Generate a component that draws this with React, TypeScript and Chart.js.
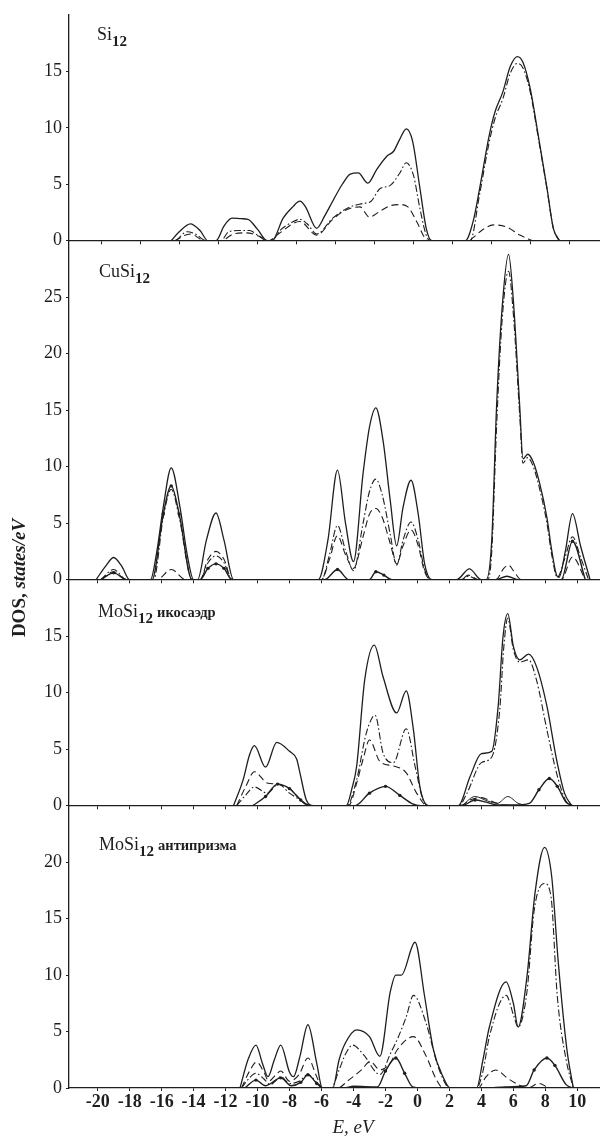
import React, { useEffect, useRef } from 'react';
import { Chart, registerables } from 'chart.js';

Chart.register(...registerables);

const FONT = "'Liberation Serif', 'Times New Roman', serif";
const INK = '#1e1e1e';

// ---- axis ticks ----
const energyTicks = [-20, -18, -16, -14, -12, -10, -8, -6, -4, -2, 0, 2, 4, 6, 8, 10];
const si12TickMarks = [-20, -17.5, -15, -12.5, -10, -7.5, -5, -2.5, 0, 2.5, 5, 7.5, 10];
const yTicks1 = [0, 5, 10, 15];
const yTicks2 = [0, 5, 10, 15, 20, 25];
const yTicks3 = [0, 5, 10, 15];
const yTicks4 = [0, 5, 10, 15, 20];
const panelMax = [20, 30, 20, 25];

// ---- panel labels ----
const panelNames = ['Si', 'CuSi', 'MoSi', 'MoSi'];
const panelSubs = ['12', '12', '12', '12'];
const panelNotes = ['', '', 'икосаэдр', 'антипризма'];

// ---- Si12 ----
const si12Total = [
  [-15.4, 0], [-14.9, 0.8], [-14.2, 1.5], [-13.6, 0.9], [-13.1, 0],
  [-12.6, 0], [-12.1, 1.3], [-11.6, 2.0], [-11.0, 1.95], [-10.6, 1.9], [-10.0, 1.0], [-9.4, 0], [-9.1, 0],
  [-8.4, 2.0], [-7.8, 3.0], [-7.35, 3.5], [-7.0, 3.0], [-6.3, 1.1], [-5.8, 2.2], [-5.3, 3.5], [-4.7, 5.0],
  [-4.2, 5.9], [-3.7, 6.0], [-3.1, 5.1], [-2.55, 6.3], [-1.9, 7.5], [-1.5, 7.9], [-1.1, 9.0], [-0.7, 9.9],
  [-0.3, 8.8], [0.15, 4.7], [0.55, 1.1], [0.9, 0],
  [3.0, 0], [3.5, 1.8], [3.9, 4.7], [4.5, 9.4], [4.85, 11.4], [5.35, 13.2], [5.8, 15.4], [6.25, 16.3],
  [6.6, 15.8], [7.05, 13.5], [7.55, 9.4], [8.1, 4.7], [8.5, 1.1], [8.9, 0],
];
const si12P = [
  [-15.1, 0], [-14.4, 0.8], [-13.9, 0.6], [-13.2, 0],
  [-12.3, 0], [-11.8, 0.8], [-11.2, 0.9], [-10.5, 0.9], [-10.0, 0.5], [-9.4, 0], [-9.1, 0],
  [-8.6, 0.9], [-7.9, 1.6], [-7.35, 1.9], [-6.9, 1.5], [-6.3, 0.6], [-5.3, 2.0], [-4.5, 2.8], [-4.0, 3.1],
  [-3.4, 3.3], [-2.9, 3.5], [-2.35, 4.6], [-1.7, 4.9], [-1.1, 6.0], [-0.7, 6.9], [-0.25, 5.8], [0.15, 2.9],
  [0.55, 0.5], [0.85, 0],
  [3.3, 0], [3.9, 4.2], [4.5, 8.8], [4.85, 10.8], [5.35, 12.6], [5.8, 14.8], [6.25, 15.7], [6.6, 15.3],
  [7.05, 13.2], [7.55, 9.2], [8.1, 4.6], [8.5, 1.1], [8.85, 0],
];
const si12S = [
  [-15.2, 0], [-14.2, 0.6], [-13.3, 0],
  [-12.3, 0], [-11.5, 0.6], [-10.7, 0.7], [-9.9, 0.4], [-9.3, 0],
  [-8.7, 0.6], [-7.35, 1.7], [-6.3, 0.5], [-5.3, 1.9], [-4.5, 2.7], [-3.6, 3.0], [-3.0, 2.1], [-2.35, 2.6],
  [-1.7, 3.1], [-1.1, 3.2], [-0.6, 3.0], [-0.05, 1.7], [0.55, 0.1], [0.8, 0],
  [3.2, 0], [3.5, 0.3], [4.1, 1.0], [4.75, 1.4], [5.6, 1.2], [6.4, 0.5], [7.2, 0],
];

// ---- CuSi12 ----
const cuTotal = [
  [-20.1, 0], [-19.5, 1.2], [-19.0, 1.96], [-18.5, 1.2], [-18.0, 0],
  [-16.7, 0], [-16.3, 2.5], [-15.9, 6.4], [-15.4, 9.9], [-14.85, 6.4], [-14.4, 2.2], [-14.0, 0],
  [-13.75, 0], [-13.2, 3.5], [-12.6, 5.9], [-12.1, 3.5], [-11.5, 0],
  [-6.2, 0], [-5.6, 3.5], [-5.0, 9.7], [-4.5, 5.0], [-4.0, 1.6], [-3.4, 9.4], [-3.0, 13.5], [-2.6, 15.2],
  [-2.15, 12.3], [-1.7, 7.0], [-1.3, 3.0], [-0.9, 6.4], [-0.4, 8.8], [0.05, 5.8], [0.45, 1.4], [0.9, 0],
  [2.45, 0], [3.25, 0.95], [4.0, 0],
  [4.3, 0], [4.65, 3.5], [4.95, 15.3], [5.3, 24.1], [5.7, 28.8], [6.0, 24.7], [6.4, 15.3], [6.6, 10.7],
  [6.9, 11.1], [7.25, 10.4], [7.65, 8.5], [8.1, 5.5], [8.4, 2.6], [8.7, 0.4], [8.85, 0.2], [9.25, 2.5],
  [9.7, 5.85], [10.2, 3.0], [10.8, 0],
];
const cuP = [
  [-19.8, 0], [-19.0, 0.9], [-18.2, 0],
  [-16.5, 0], [-15.9, 5.5], [-15.4, 8.0], [-14.9, 5.5], [-14.1, 0],
  [-13.6, 0], [-13.1, 1.5], [-12.6, 2.1], [-12.1, 1.5], [-11.6, 0],
  [-6.0, 0], [-5.5, 2.2], [-5.0, 4.8], [-4.5, 2.6], [-4.0, 0.8], [-3.4, 5.0], [-3.0, 7.8], [-2.6, 8.9],
  [-2.2, 7.5], [-1.7, 4.0], [-1.3, 1.3], [-0.9, 3.5], [-0.4, 5.1], [0.05, 3.5], [0.45, 0.9], [0.85, 0],
  [2.7, 0], [3.2, 0.3], [3.8, 0],
  [4.4, 0], [4.65, 2.5], [4.95, 13.5], [5.3, 23.0], [5.7, 27.3], [6.0, 23.5], [6.4, 14.5], [6.6, 10.3],
  [6.9, 10.8], [7.25, 10.0], [7.65, 8.0], [8.1, 5.0], [8.4, 2.2], [8.75, 0.2], [9.2, 1.8], [9.7, 3.8],
  [10.2, 2.0], [10.7, 0],
];
const cuS = [
  [-19.8, 0], [-19.0, 0.7], [-18.2, 0],
  [-16.3, 0], [-15.4, 0.9], [-14.5, 0],
  [-13.6, 0], [-13.1, 1.8], [-12.6, 2.5], [-12.1, 1.8], [-11.6, 0],
  [-6.0, 0], [-5.5, 1.8], [-5.0, 3.9], [-4.5, 2.2], [-4.0, 1.0], [-3.4, 3.8], [-3.0, 5.8], [-2.6, 6.3],
  [-2.2, 5.5], [-1.7, 3.2], [-1.3, 1.4], [-0.9, 3.0], [-0.4, 4.4], [0.05, 3.0], [0.45, 0.7], [0.85, 0],
  [2.7, 0], [3.2, 0.4], [3.8, 0],
  [4.9, 0], [5.4, 1.0], [5.7, 1.3], [6.0, 0.8], [6.5, 0],
  [9.0, 0], [9.7, 2.0], [10.5, 0],
];
const cuD = [
  [-19.8, 0], [-19.0, 0.6], [-18.2, 0],
  [-16.6, 0], [-15.9, 5.8], [-15.4, 8.3], [-14.9, 5.8], [-14.1, 0],
  [-13.6, 0], [-13.1, 1.0], [-12.6, 1.4], [-12.1, 1.0], [-11.6, 0],
  [-5.8, 0], [-5.0, 0.9], [-4.3, 0],
  [-3.0, 0], [-2.6, 0.7], [-2.1, 0.4], [-1.6, 0],
  [4.9, 0], [5.6, 0.3], [6.3, 0],
  [9.0, 0], [9.7, 3.4], [10.5, 0],
];

// ---- MoSi12 icosahedron ----
const icoTotal = [
  [-11.5, 0], [-10.9, 2.3], [-10.5, 4.5], [-10.2, 5.3], [-9.5, 3.4], [-8.8, 5.6], [-8.0, 4.8], [-7.55, 4.1],
  [-7.35, 2.9], [-6.95, 0.5], [-6.5, 0],
  [-4.45, 0], [-4.1, 1.5], [-3.8, 3.5], [-3.3, 11.1], [-2.7, 14.2], [-2.15, 11.4], [-1.3, 8.2], [-0.7, 10.15],
  [-0.25, 6.7], [0.15, 1.7], [0.7, 0],
  [2.55, 0], [3.3, 2.6], [4.0, 4.6], [4.65, 4.8], [5.05, 8.8], [5.35, 14.9], [5.65, 17.0], [6.0, 14.1],
  [6.4, 12.9], [6.95, 13.4], [7.45, 12.3], [8.1, 8.8], [8.7, 4.1], [9.2, 1.1], [9.65, 0],
];
const icoP = [
  [-11.3, 0], [-10.7, 1.0], [-10.2, 1.65], [-9.4, 1.1], [-8.7, 1.9], [-8.0, 1.1], [-7.35, 0.5], [-6.8, 0],
  [-4.4, 0], [-3.8, 2.3], [-3.2, 6.4], [-2.65, 8.0], [-2.15, 4.65], [-1.5, 3.8], [-0.7, 6.8], [-0.15, 3.5],
  [0.35, 0.5], [0.7, 0],
  [2.6, 0], [3.1, 1.1], [4.0, 3.8], [4.65, 4.3], [5.15, 8.5], [5.4, 14.0], [5.65, 16.6], [6.0, 13.8],
  [6.4, 12.7], [6.95, 12.9], [7.45, 11.1], [8.1, 6.7], [8.7, 2.9], [9.25, 0.5], [9.6, 0],
];
const icoS = [
  [-11.3, 0], [-10.7, 1.8], [-10.2, 3.0], [-9.4, 2.0], [-8.8, 1.9], [-8.0, 1.5], [-7.3, 0.5], [-6.8, 0],
  [-4.3, 0], [-3.8, 2.0], [-3.4, 4.1], [-3.0, 5.8], [-2.35, 3.9], [-1.5, 3.5], [-0.7, 2.9], [-0.05, 1.1], [0.6, 0],
  [2.7, 0], [3.3, 0.5], [4.0, 0.7], [4.6, 0.4], [5.2, 0.1], [5.8, 0],
];
const icoD = [
  [-10.3, 0], [-9.5, 0.8], [-8.75, 1.9], [-8.0, 1.5], [-7.3, 0.5], [-6.7, 0],
  [-3.9, 0], [-3.0, 1.1], [-2.0, 1.7], [-1.1, 0.9], [-0.3, 0.15], [0.2, 0],
  [2.8, 0], [3.6, 0.5], [4.3, 0.3], [5.0, 0.05], [6.0, 0.05], [7.0, 0.2], [7.6, 1.4], [8.25, 2.4],
  [8.75, 1.7], [9.3, 0.3], [9.7, 0],
];
const icoMinor = [
  [2.8, 0], [3.6, 0.8], [4.4, 0.4], [5.0, 0.2], [5.65, 0.8], [6.3, 0.2], [6.8, 0],
];

// ---- MoSi12 antiprism ----
const antTotal = [
  [-11.1, 0], [-10.6, 2.5], [-10.1, 3.8], [-9.7, 2.2], [-9.35, 1.0], [-8.95, 2.5], [-8.55, 3.8], [-8.0, 1.4],
  [-7.75, 1.0], [-7.35, 2.8], [-6.85, 5.6], [-6.3, 2.2], [-5.95, 0],
  [-5.3, 0], [-4.9, 2.5], [-4.5, 4.0], [-3.8, 5.15], [-3.0, 4.55], [-2.35, 2.8], [-1.7, 8.5], [-1.35, 10.0],
  [-1.0, 10.0], [-0.15, 12.9], [0.45, 8.1], [1.0, 3.4], [1.6, 1.0], [2.05, 0],
  [3.7, 0], [4.1, 2.5], [4.5, 5.4], [5.55, 9.4], [6.0, 7.5], [6.3, 5.4], [6.85, 9.85], [7.35, 17.2],
  [7.95, 21.3], [8.4, 18.7], [8.8, 11.3], [9.35, 3.4], [9.75, 0],
];
const antP = [
  [-11.0, 0], [-10.5, 0.9], [-10.1, 1.3], [-9.6, 0.8], [-9.2, 0.3], [-8.9, 0.6], [-8.55, 1.0], [-8.0, 0.4],
  [-7.4, 0.6], [-6.85, 1.2], [-6.3, 0.5], [-5.9, 0],
  [-5.4, 0], [-4.9, 1.6], [-4.5, 3.0], [-4.05, 3.8], [-3.4, 3.0], [-2.35, 1.2], [-1.7, 3.0], [-1.2, 4.5],
  [-0.7, 6.3], [-0.25, 8.2], [0.55, 5.7], [1.2, 2.3], [1.6, 0.8], [2.0, 0],
  [3.7, 0], [4.1, 1.5], [4.5, 4.55], [5.55, 8.2], [6.0, 6.5], [6.3, 5.4], [6.85, 8.5], [7.3, 15.7],
  [7.95, 18.1], [8.35, 17.0], [8.75, 8.1], [9.3, 2.5], [9.75, 0],
];
const antS = [
  [-11.0, 0], [-10.5, 1.5], [-10.05, 2.3], [-9.6, 1.4], [-9.3, 0.6], [-8.9, 1.1], [-8.55, 1.5], [-8.0, 0.6],
  [-7.4, 1.2], [-6.85, 2.65], [-6.3, 1.0], [-5.95, 0],
  [-5.0, 0], [-4.3, 0.7], [-3.5, 1.6], [-2.95, 2.35], [-2.35, 1.6], [-1.7, 2.2], [-1.3, 3.3], [-0.25, 4.55],
  [0.55, 2.8], [1.2, 0.7], [1.6, 0],
  [3.8, 0], [4.3, 1.0], [4.9, 1.6], [5.6, 0.9], [6.3, 0.3], [6.9, 0], [7.6, 0.4], [8.2, 0],
];
const antD = [
  [-10.8, 0], [-10.1, 0.7], [-9.5, 0.2], [-8.55, 0.9], [-7.9, 0.2], [-7.3, 0.5], [-6.85, 1.17], [-6.3, 0.4], [-5.9, 0],
  [-4.6, 0], [-4.0, 0.15], [-2.5, 0.1], [-2.0, 1.5], [-1.35, 2.65], [-0.8, 1.3], [-0.3, 0.1], [0.2, 0],
  [4.3, 0], [5.5, 0.1], [6.8, 0.2], [7.3, 1.6], [8.1, 2.65], [8.6, 2.0], [9.3, 0.3], [9.7, 0],
];

const markerRadius = (ctx: any) => (ctx.raw && ctx.raw.y > 0.3 ? 1.7 : 0);

const lineStyles: Record<string, any> = {
  total: { borderWidth: 1.3, borderDash: [], pointRadius: 0 },
  minor: { borderWidth: 1.0, borderDash: [], pointRadius: 0 },
  p: { borderWidth: 1.1, borderDash: [7, 2.5, 1.6, 2.5], pointRadius: 0 },
  s: { borderWidth: 1.1, borderDash: [7, 4], pointRadius: 0 },
  d: { borderWidth: 1.4, borderDash: [], pointRadius: markerRadius, pointBorderWidth: 0 },
};

function makeDataset(points: number[][], axis: string, style: string) {
  return {
    data: points.map(([x, y]) => ({ x, y })),
    xAxisID: 'x',
    yAxisID: axis,
    borderColor: INK,
    backgroundColor: INK,
    pointBackgroundColor: INK,
    fill: false,
    cubicInterpolationMode: 'monotone',
    ...lineStyles[style],
  };
}

const X_MIN = -21.795;
const X_MAX = 11.42;

const gridOpts = { drawOnChartArea: false, drawTicks: true, tickLength: 3, color: INK, lineWidth: 1 };
const borderOpts = { color: INK, width: 1.3 };

function yAxis(ticks: number[], max: number, weight: number) {
  return {
    type: 'linear',
    position: 'left',
    stack: 'dos',
    stackWeight: max,
    weight,
    min: 0,
    max,
    offset: false,
    afterBuildTicks: (s: any) => { s.ticks = ticks.map((v) => ({ value: v })); },
    afterFit: (s: any) => { s.width = 69; },
    grid: gridOpts,
    border: borderOpts,
    ticks: { font: { family: FONT, size: 18 }, color: INK, padding: 4 },
  };
}

function markAxis(axisId: string, min: number, max: number, marks: number[]) {
  return {
    type: 'linear',
    axis: 'x',
    position: { [axisId]: 0 },
    min,
    max,
    afterBuildTicks: (s: any) => { s.ticks = marks.map((v) => ({ value: v })); },
    ticks: { display: false },
    grid: gridOpts,
    border: borderOpts,
  };
}

function Label({ top, left, name, sub, note }: any) {
  return (
    <div style={{ position: 'absolute', left, top, font: `18px ${FONT}`, lineHeight: '18px', color: INK, whiteSpace: 'nowrap' }}>
      {name}
      <span style={{ fontSize: 15, fontWeight: 'bold', position: 'relative', top: 6 }}>{sub}</span>
      {note ? <span style={{ fontSize: 14.5, fontWeight: 'bold', marginLeft: 4 }}>{note}</span> : null}
    </div>
  );
}

export default function App() {
  const ref = useRef<HTMLCanvasElement>(null);
  useEffect(() => {
    if (!ref.current) return;
    const chart = new Chart(ref.current, {
      type: 'line',
      data: {
        datasets: [
          makeDataset(si12Total, 'y1', 'total'),
          makeDataset(si12P, 'y1', 'p'),
          makeDataset(si12S, 'y1', 's'),
          makeDataset(cuTotal, 'y2', 'total'),
          makeDataset(cuP, 'y2', 'p'),
          makeDataset(cuS, 'y2', 's'),
          makeDataset(cuD, 'y2', 'd'),
          makeDataset(icoTotal, 'y3', 'total'),
          makeDataset(icoP, 'y3', 'p'),
          makeDataset(icoS, 'y3', 's'),
          makeDataset(icoD, 'y3', 'd'),
          makeDataset(icoMinor, 'y3', 'minor'),
          makeDataset(antTotal, 'y4', 'total'),
          makeDataset(antP, 'y4', 'p'),
          makeDataset(antS, 'y4', 's'),
          makeDataset(antD, 'y4', 'd'),
        ] as any,
      },
      options: {
        animation: false,
        responsive: false,
        devicePixelRatio: 1,
        layout: { padding: { top: 13, left: 0, right: 0, bottom: 0 } },
        plugins: { legend: { display: false }, tooltip: { enabled: false } },
        scales: {
          x: {
            type: 'linear',
            position: 'bottom',
            min: X_MIN,
            max: X_MAX,
            afterBuildTicks: (s: any) => { s.ticks = energyTicks.map((v) => ({ value: v })); },
            afterFit: (s: any) => { s.height = 48; },
            grid: gridOpts,
            border: borderOpts,
            ticks: {
              font: { family: FONT, size: 18, weight: 'bold' },
              color: INK,
              padding: 1,
              maxRotation: 0,
              autoSkip: false,
              callback: (v: any) => String(v),
            },
          },
          xt1: markAxis('y1', -22.098, 11.968, si12TickMarks),
          xt2: markAxis('y2', X_MIN, X_MAX, energyTicks),
          xt3: markAxis('y3', X_MIN, X_MAX, energyTicks),
          y1: yAxis(yTicks1, panelMax[0], 4),
          y2: yAxis(yTicks2, panelMax[1], 3),
          y3: yAxis(yTicks3, panelMax[2], 2),
          y4: yAxis(yTicks4, panelMax[3], 1),
        } as any,
      },
    });
    return () => chart.destroy();
  }, []);

  const labelTops = [25, 262, 602, 835];
  const labelLefts = [97, 99, 98, 99];

  return (
    <div style={{ position: 'absolute', left: 0, top: 0, width: 600, height: 1136, background: '#fff' }}>
      <canvas ref={ref} width={600} height={1136} style={{ display: 'block', width: 600, height: 1136 }} />
      {panelNames.map((n, i) => (
        <Label key={i} top={labelTops[i]} left={labelLefts[i]} name={n} sub={panelSubs[i]} note={panelNotes[i]} />
      ))}
      <div style={{ position: 'absolute', left: 19.5 - 100, top: 578 - 12, width: 200, height: 24, lineHeight: '24px', textAlign: 'center', transform: 'rotate(-90deg)', font: `bold 19px ${FONT}`, color: INK, whiteSpace: 'nowrap' }}>
        DOS, <i>states/eV</i>
      </div>
      <div style={{ position: 'absolute', left: 303, top: 1116, width: 100, height: 24, lineHeight: '24px', textAlign: 'center', font: `italic 19px ${FONT}`, color: INK }}>
        E, eV
      </div>
    </div>
  );
}
